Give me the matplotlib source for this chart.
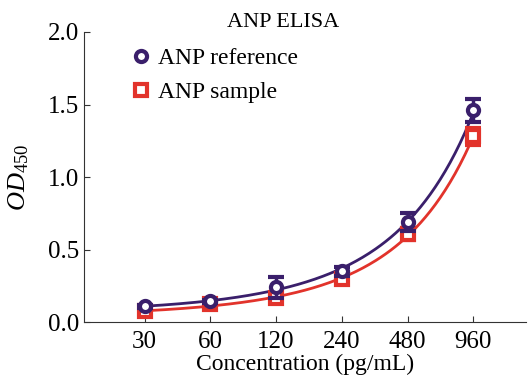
import numpy as np
import matplotlib
matplotlib.use('Agg')
import matplotlib.pyplot as plt
from matplotlib.lines import Line2D

plt.rcParams['font.family'] = ['Liberation Serif', 'DejaVu Serif']
plt.rcParams['mathtext.fontset'] = 'custom'
plt.rcParams['mathtext.rm'] = 'Liberation Serif'
plt.rcParams['mathtext.it'] = 'Liberation Serif:italic'

concentrations = ['30', '60', '120', '240', '480', '960']
ref_od = [0.11, 0.145, 0.24, 0.35, 0.69, 1.46]
ref_err = [0.01, 0.01, 0.07, 0.03, 0.06, 0.08]
sample_od = [0.075, 0.125, 0.165, 0.295, 0.61, 1.28]
sample_err = [0.01, 0.01, 0.02, 0.02, 0.04, 0.06]

ref_color = '#3a1f6b'
sample_color = '#e2332b'

fig = plt.figure(figsize=(5.29, 3.76), dpi=100)
ax = fig.add_axes([0.159, 0.143, 0.835, 0.772])

idx = np.arange(len(concentrations))
grid = np.linspace(0, len(concentrations) - 1, 200)

# smooth fit curves through the points
for vals, color in [(ref_od, ref_color), (sample_od, sample_color)]:
    coef = np.polyfit(idx, np.log(vals), 2)
    ax.plot(grid, np.exp(np.polyval(coef, grid)), color=color, lw=2, zorder=2)

ax.errorbar(idx, sample_od, yerr=sample_err, fmt='s', ms=9, mfc='white',
            mec=sample_color, mew=3, ecolor=sample_color, elinewidth=2.5,
            capsize=6, capthick=3, zorder=3)
ax.errorbar(idx, ref_od, yerr=ref_err, fmt='o', ms=8, mfc='white',
            mec=ref_color, mew=3, ecolor=ref_color, elinewidth=2.5,
            capsize=6, capthick=3, zorder=4)

ax.set_xlim(-0.92, 5.8)
ax.set_ylim(0, 2.0)
ax.set_xticks(idx)
ax.set_xticklabels(concentrations)
ax.set_yticks([0, 0.5, 1.0, 1.5, 2.0])
ax.set_yticklabels(['0.0', '0.5', '1.0', '1.5', '2.0'])
ax.tick_params(direction='in', labelsize=18, length=4, color='#333333')
ax.tick_params(axis='x', pad=6)
ax.spines['top'].set_visible(False)
ax.spines['right'].set_visible(False)
ax.spines['left'].set_color('#333333')
ax.spines['bottom'].set_color('#333333')

ax.set_xlabel('Concentration (pg/mL)', fontsize=17, labelpad=1)
ax.set_ylabel(r'$\mathit{OD}_{\mathrm{450}}$', fontsize=19, labelpad=12)
ax.set_title('ANP ELISA', fontsize=16, pad=2, x=0.45)

handles = [
    Line2D([], [], ls='none', marker='o', ms=8, mfc='white', mec=ref_color, mew=3),
    Line2D([], [], ls='none', marker='s', ms=9, mfc='white', mec=sample_color, mew=3),
]
ax.legend(handles, ['ANP reference', 'ANP sample'], loc='upper left',
          bbox_to_anchor=(0.055, 1.02), frameon=False, fontsize=17,
          handletextpad=0.2, labelspacing=0.55, handlelength=1.0)

plt.savefig('out.png', dpi=100)
